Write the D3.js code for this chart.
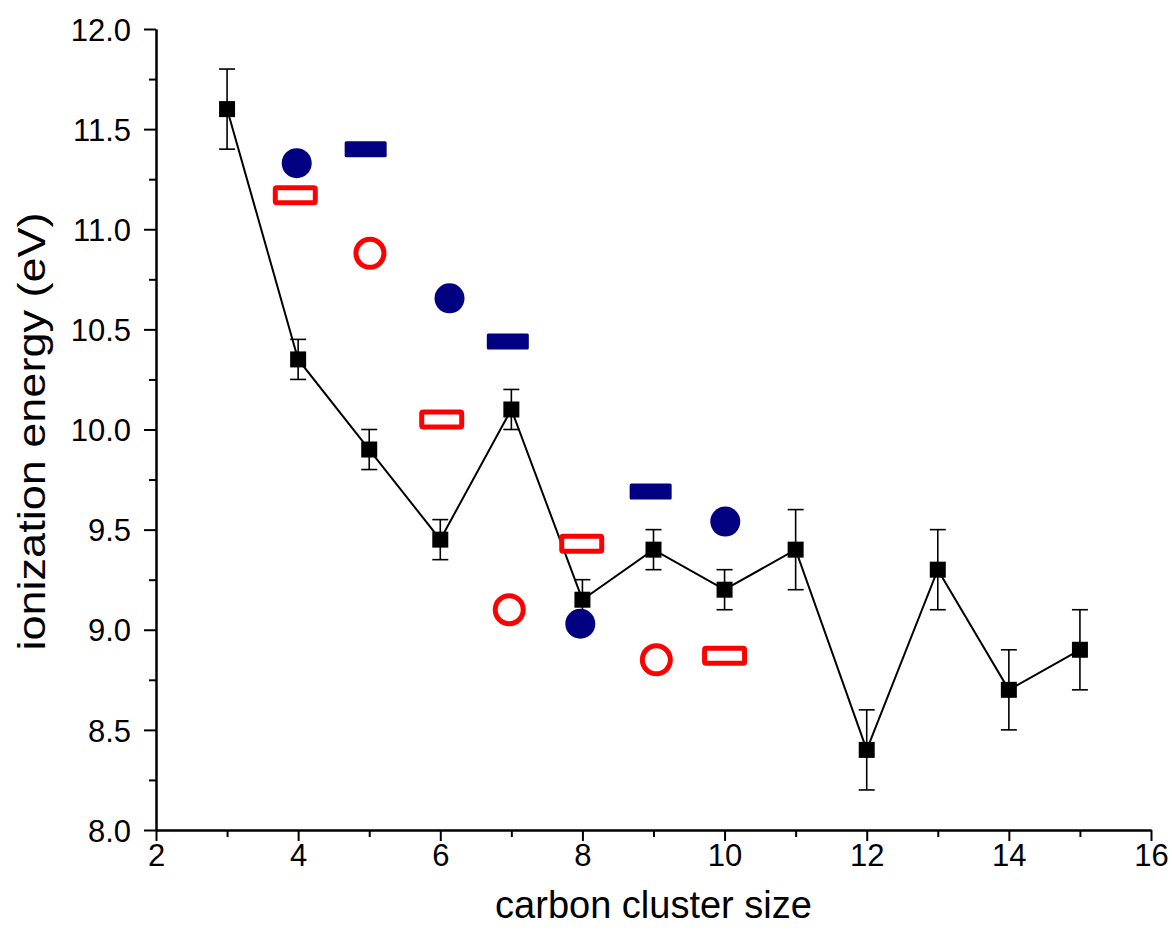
<!DOCTYPE html>
<html>
<head>
<meta charset="utf-8">
<script src="https://cdn.jsdelivr.net/npm/d3@7"></script>
<style>
  html, body { margin: 0; padding: 0; background: #fff; }
  svg { display: block; }
  text { font-family: "Liberation Sans", Arial, sans-serif; }
</style>
</head>
<body>
<svg id="chart" width="1172" height="943"></svg>
<script>
// ---- data ----
const expSize   = [3, 4, 5, 6, 7, 8, 9, 10, 11, 12, 13, 14, 15];
const expIE     = [11.6, 10.35, 9.9, 9.45, 10.1, 9.15, 9.4, 9.2, 9.4, 8.4, 9.3, 8.7, 8.9];
const expErr    = [0.2, 0.1, 0.1, 0.1, 0.1, 0.1, 0.1, 0.1, 0.2, 0.2, 0.2, 0.2, 0.2];

const blueCircleSize = [3.98, 6.13, 7.97, 10.01];
const blueCircleIE   = [11.33, 10.655, 9.03, 9.54];

const blueBarSize = [4.95, 6.95, 8.96];
const blueBarIE   = [11.40, 10.44, 9.69];

const redRectSize = [3.96, 6.02, 7.99, 10.0];
const redRectIE   = [11.17, 10.05, 9.43, 8.87];

const redRingSize = [5.01, 6.97, 9.04];
const redRingIE   = [10.88, 9.10, 8.85];

const xTicks = [2, 4, 6, 8, 10, 12, 14, 16];
const xMinor = [3, 5, 7, 9, 11, 13, 15];
const yTicks = [8.0, 8.5, 9.0, 9.5, 10.0, 10.5, 11.0, 11.5, 12.0];
const yMinor = [8.25, 8.75, 9.25, 9.75, 10.25, 10.75, 11.25, 11.75];

const xTitle = "carbon cluster size";
const yTitle = "ionization energy (eV)";

// ---- layout ----
const margin = {left: 156, top: 29, right: 21, bottom: 113};
const W = 1172, H = 943;
const iw = W - margin.left - margin.right;
const ih = H - margin.top - margin.bottom;

const svg = d3.select("#chart");
const g = svg.append("g").attr("transform", `translate(${margin.left},${margin.top})`);

const x = d3.scaleLinear().domain([2, 16]).range([0, iw]);
const y = d3.scaleLinear().domain([8, 12]).range([ih, 0]);

// axes
const xAxis = g.append("g").attr("transform", `translate(0,${ih})`)
  .call(d3.axisBottom(x).tickValues(xTicks).tickFormat(d3.format("d")).tickSize(11).tickPadding(3).tickSizeOuter(0));
const xAxisMinor = g.append("g").attr("transform", `translate(0,${ih})`)
  .call(d3.axisBottom(x).tickValues(xMinor).tickFormat("").tickSize(7).tickSizeOuter(0));
const yAxis = g.append("g")
  .call(d3.axisLeft(y).tickValues(yTicks).tickFormat(d3.format(".1f")).tickSize(12).tickPadding(13).tickSizeOuter(0));
const yAxisMinor = g.append("g")
  .call(d3.axisLeft(y).tickValues(yMinor).tickFormat("").tickSize(7).tickSizeOuter(0));

[xAxis, xAxisMinor, yAxis, yAxisMinor].forEach(a => {
  a.selectAll("path.domain").attr("stroke", "#000").attr("stroke-width", 2);
  a.selectAll(".tick line").attr("stroke", "#000").attr("stroke-width", 2);
  a.selectAll(".tick text").attr("fill", "#000").style("font-size", "31px")
    .style("font-family", '"Liberation Sans", Arial, sans-serif');
});
yAxis.selectAll(".tick text").attr("dy", "0.36em");

// axis titles
svg.append("text")
  .attr("x", margin.left + iw / 2).attr("y", 918)
  .attr("text-anchor", "middle").style("font-size", "38px").attr("fill", "#000")
  .text(xTitle);
svg.append("text")
  .attr("transform", `translate(45,${margin.top + ih / 2 + 2}) rotate(-90)`)
  .attr("text-anchor", "middle").style("font-size", "38px").attr("fill", "#000")
  .attr("textLength", 438).attr("lengthAdjust", "spacingAndGlyphs")
  .text(yTitle);

// experimental line
const expData = expSize.map((s, i) => ({s, v: expIE[i], e: expErr[i]}));
g.append("path").datum(expData)
  .attr("fill", "none").attr("stroke", "#000").attr("stroke-width", 2)
  .attr("d", d3.line().x(d => x(d.s)).y(d => y(d.v)));

// error bars
const eb = g.append("g").attr("stroke", "#000").attr("stroke-width", 1.6);
eb.selectAll("line.v").data(expData).join("line")
  .attr("x1", d => x(d.s)).attr("x2", d => x(d.s))
  .attr("y1", d => y(d.v - d.e)).attr("y2", d => y(d.v + d.e));
eb.selectAll("line.t").data(expData).join("line")
  .attr("x1", d => x(d.s) - 8).attr("x2", d => x(d.s) + 8)
  .attr("y1", d => y(d.v + d.e)).attr("y2", d => y(d.v + d.e));
eb.selectAll("line.b").data(expData).join("line")
  .attr("x1", d => x(d.s) - 8).attr("x2", d => x(d.s) + 8)
  .attr("y1", d => y(d.v - d.e)).attr("y2", d => y(d.v - d.e));

// squares
g.selectAll("rect.sq").data(expData).join("rect")
  .attr("x", d => x(d.s) - 8).attr("y", d => y(d.v) - 8)
  .attr("width", 16).attr("height", 16).attr("fill", "#000");

// blue circles
g.selectAll("circle.bc").data(blueCircleSize.map((s, i) => ({s, v: blueCircleIE[i]}))).join("circle")
  .attr("cx", d => x(d.s)).attr("cy", d => y(d.v)).attr("r", 15).attr("fill", "#000080");

// blue bars
g.selectAll("rect.bb").data(blueBarSize.map((s, i) => ({s, v: blueBarIE[i]}))).join("rect")
  .attr("x", d => x(d.s) - 21).attr("y", d => y(d.v) - 8)
  .attr("width", 42).attr("height", 16).attr("rx", 1.5).attr("fill", "#000080");

// red open rectangles
g.selectAll("rect.rr").data(redRectSize.map((s, i) => ({s, v: redRectIE[i]}))).join("rect")
  .attr("x", d => x(d.s) - 20).attr("y", d => y(d.v) - 7.5)
  .attr("width", 40).attr("height", 15).attr("rx", 1.5)
  .attr("fill", "#fff").attr("stroke", "#ff0000").attr("stroke-width", 5);

// red rings
g.selectAll("circle.rc").data(redRingSize.map((s, i) => ({s, v: redRingIE[i]}))).join("circle")
  .attr("cx", d => x(d.s)).attr("cy", d => y(d.v)).attr("r", 14)
  .attr("fill", "#fff").attr("stroke", "#ff0000").attr("stroke-width", 5);
</script>
</body>
</html>
